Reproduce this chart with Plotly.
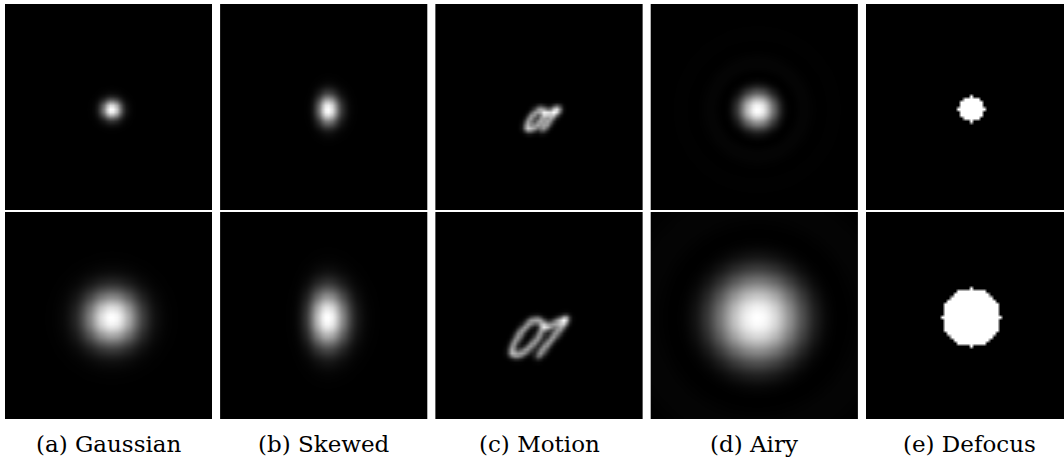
import numpy as np
import math
import plotly.graph_objects as go

# ---------------- data ----------------
panel_labels = ["(a) Gaussian", "(b) Skewed", "(c) Motion", "(d) Airy", "(e) Defocus"]
kernel_size = 64                      # kernel grid (pixels)
kernel_center = [32.4, 32.2]          # x, y centre (kernel pixels)

gauss_sigma = [2.1, 5.8]              # top row, bottom row

skew_sigma_x = [3.0, 5.2]
skew_sigma_y = [3.2, 6.2]
skew_alpha = [1.2, 1.2]
skew_center_x = [31.1, 29.8]

# motion trajectory (bottom-row kernel, in panel pixels of a 207 px panel)
motion_path_x = [101.3, 114.0, 125.7, 131.3, 122.3, 111.0, 103.0, 96.0, 86.0, 78.0, 75.0, 82.0, 93.0, 103.0, 108.0]
motion_path_y = [144.7, 128.0, 114.0, 105.3, 109.0, 115.0, 107.0, 108.0, 118.0, 131.0, 141.0, 143.0, 136.0, 124.0, 113.0]
motion_anchor_bottom = [103.0, 125.0]
motion_anchor_top = [106.5, 115.5]
motion_scale = [0.58, 1.0]
motion_width = [0.85, 0.9]            # kernel pixels (gaussian std of stroke)

airy_scale = [2.8, 6.8]               # kernel pixels per unit of the Airy argument
defocus_radius = [4, 9]               # kernel pixels
defocus_center = [32, 32]

# ---------------- kernels ----------------
N = kernel_size
idx = np.arange(N)
X, Y = np.meshgrid(idx, idx)


def gaussian(s):
    dx = X - kernel_center[0]
    dy = Y - kernel_center[1]
    return np.exp(-0.5 * (dx ** 2 + dy ** 2) / s ** 2)


_erf = np.vectorize(math.erf)


def skewed(sx, sy, a, cx):
    dx = X - cx
    dy = Y - kernel_center[1]
    base = np.exp(-0.5 * (dx ** 2 / sx ** 2 + dy ** 2 / sy ** 2))
    return base * (1.0 + _erf(a * dx / (sx * math.sqrt(2.0))))


def j1(u):
    tau = np.linspace(0.0, np.pi, 1201)
    vals = np.cos(tau[None, :] - u.reshape(-1, 1) * np.sin(tau[None, :]))
    return np.trapezoid(vals, tau, axis=1).reshape(u.shape) / np.pi


def airy(scale):
    dx = X - kernel_center[0]
    dy = Y - kernel_center[1]
    u = np.sqrt(dx ** 2 + dy ** 2) / scale
    out = np.ones_like(u)
    nz = u > 1e-9
    out[nz] = (2.0 * j1(u[nz]) / u[nz]) ** 2
    return out


def defocus(r):
    dx = X - defocus_center[0]
    dy = Y - defocus_center[1]
    return (dx ** 2 + dy ** 2 <= r ** 2).astype(float)


def motion(row):
    px = np.array(motion_path_x)
    py = np.array(motion_path_y)
    sc = motion_scale[row]
    if row == 0:
        px = motion_anchor_top[0] + sc * (px - motion_anchor_bottom[0])
        py = motion_anchor_top[1] + sc * (py - motion_anchor_bottom[1])
    kx = px * N / 207.0 - 0.5
    ky = py * N / 206.5 - 0.5
    seg = np.hypot(np.diff(kx), np.diff(ky))
    cum = np.concatenate([[0], np.cumsum(seg)])
    t = np.linspace(0, cum[-1], 600)
    sx = np.interp(t, cum, kx)
    sy = np.interp(t, cum, ky)
    s = motion_width[row]
    z = np.zeros((N, N))
    for a, b in zip(sx, sy):
        z += np.exp(-0.5 * ((X - a) ** 2 + (Y - b) ** 2) / s ** 2)
    return z


kernels = []
for row in range(2):
    kernels.append([
        gaussian(gauss_sigma[row]),
        skewed(skew_sigma_x[row], skew_sigma_y[row], skew_alpha[row], skew_center_x[row]),
        motion(row),
        airy(airy_scale[row]),
        defocus(defocus_radius[row]),
    ])

# ---------------- figure ----------------
W, H = 1064, 465
panel_w = 207
pitch = 215.25
left0 = 5
row_px = [(4, 210), (212, 419)]

fig = go.Figure()
gray = [[0, "black"], [1, "white"]]
layout = {}
k = 0
for row in range(2):
    for col in range(5):
        k += 1
        z = kernels[row][col]
        fig.add_trace(go.Heatmap(
            z=z, x=idx, y=idx, colorscale=gray, zmin=0, zmax=float(z.max()),
            showscale=False, zsmooth="best", hoverinfo="skip",
            xaxis=f"x{k}", yaxis=f"y{k}"))
        x0 = left0 + pitch * col
        x1 = x0 + panel_w
        xr = [-0.5, N - 0.5]
        if x1 > W:
            xr = [-0.5, -0.5 + N * (W - x0) / panel_w]
            x1 = W
        top, bot = row_px[row]
        sfx = "" if k == 1 else str(k)
        layout[f"xaxis{sfx}"] = dict(domain=[x0 / W, x1 / W], range=xr, visible=False,
                                     fixedrange=True, anchor=f"y{k}")
        layout[f"yaxis{sfx}"] = dict(domain=[1 - bot / H, 1 - top / H], range=[N - 0.5, -0.5],
                                     visible=False, fixedrange=True, anchor=f"x{k}")

annotations = []
for col, lab in enumerate(panel_labels):
    cx = left0 + pitch * col + panel_w / 2
    annotations.append(dict(text=lab, x=cx / W, y=1 - 444 / H, xref="paper", yref="paper",
                            xanchor="center", yanchor="middle", showarrow=False,
                            font=dict(family="DejaVu Serif", size=23, color="black")))

fig.update_layout(width=W, height=H, margin=dict(l=0, r=0, t=0, b=0),
                  paper_bgcolor="white", plot_bgcolor="black",
                  annotations=annotations, showlegend=False, **layout)

fig.write_html("out.html", config={"displayModeBar": False, "staticPlot": True},
               post_script="document.body.style.margin='0';document.body.style.overflow='hidden';")
